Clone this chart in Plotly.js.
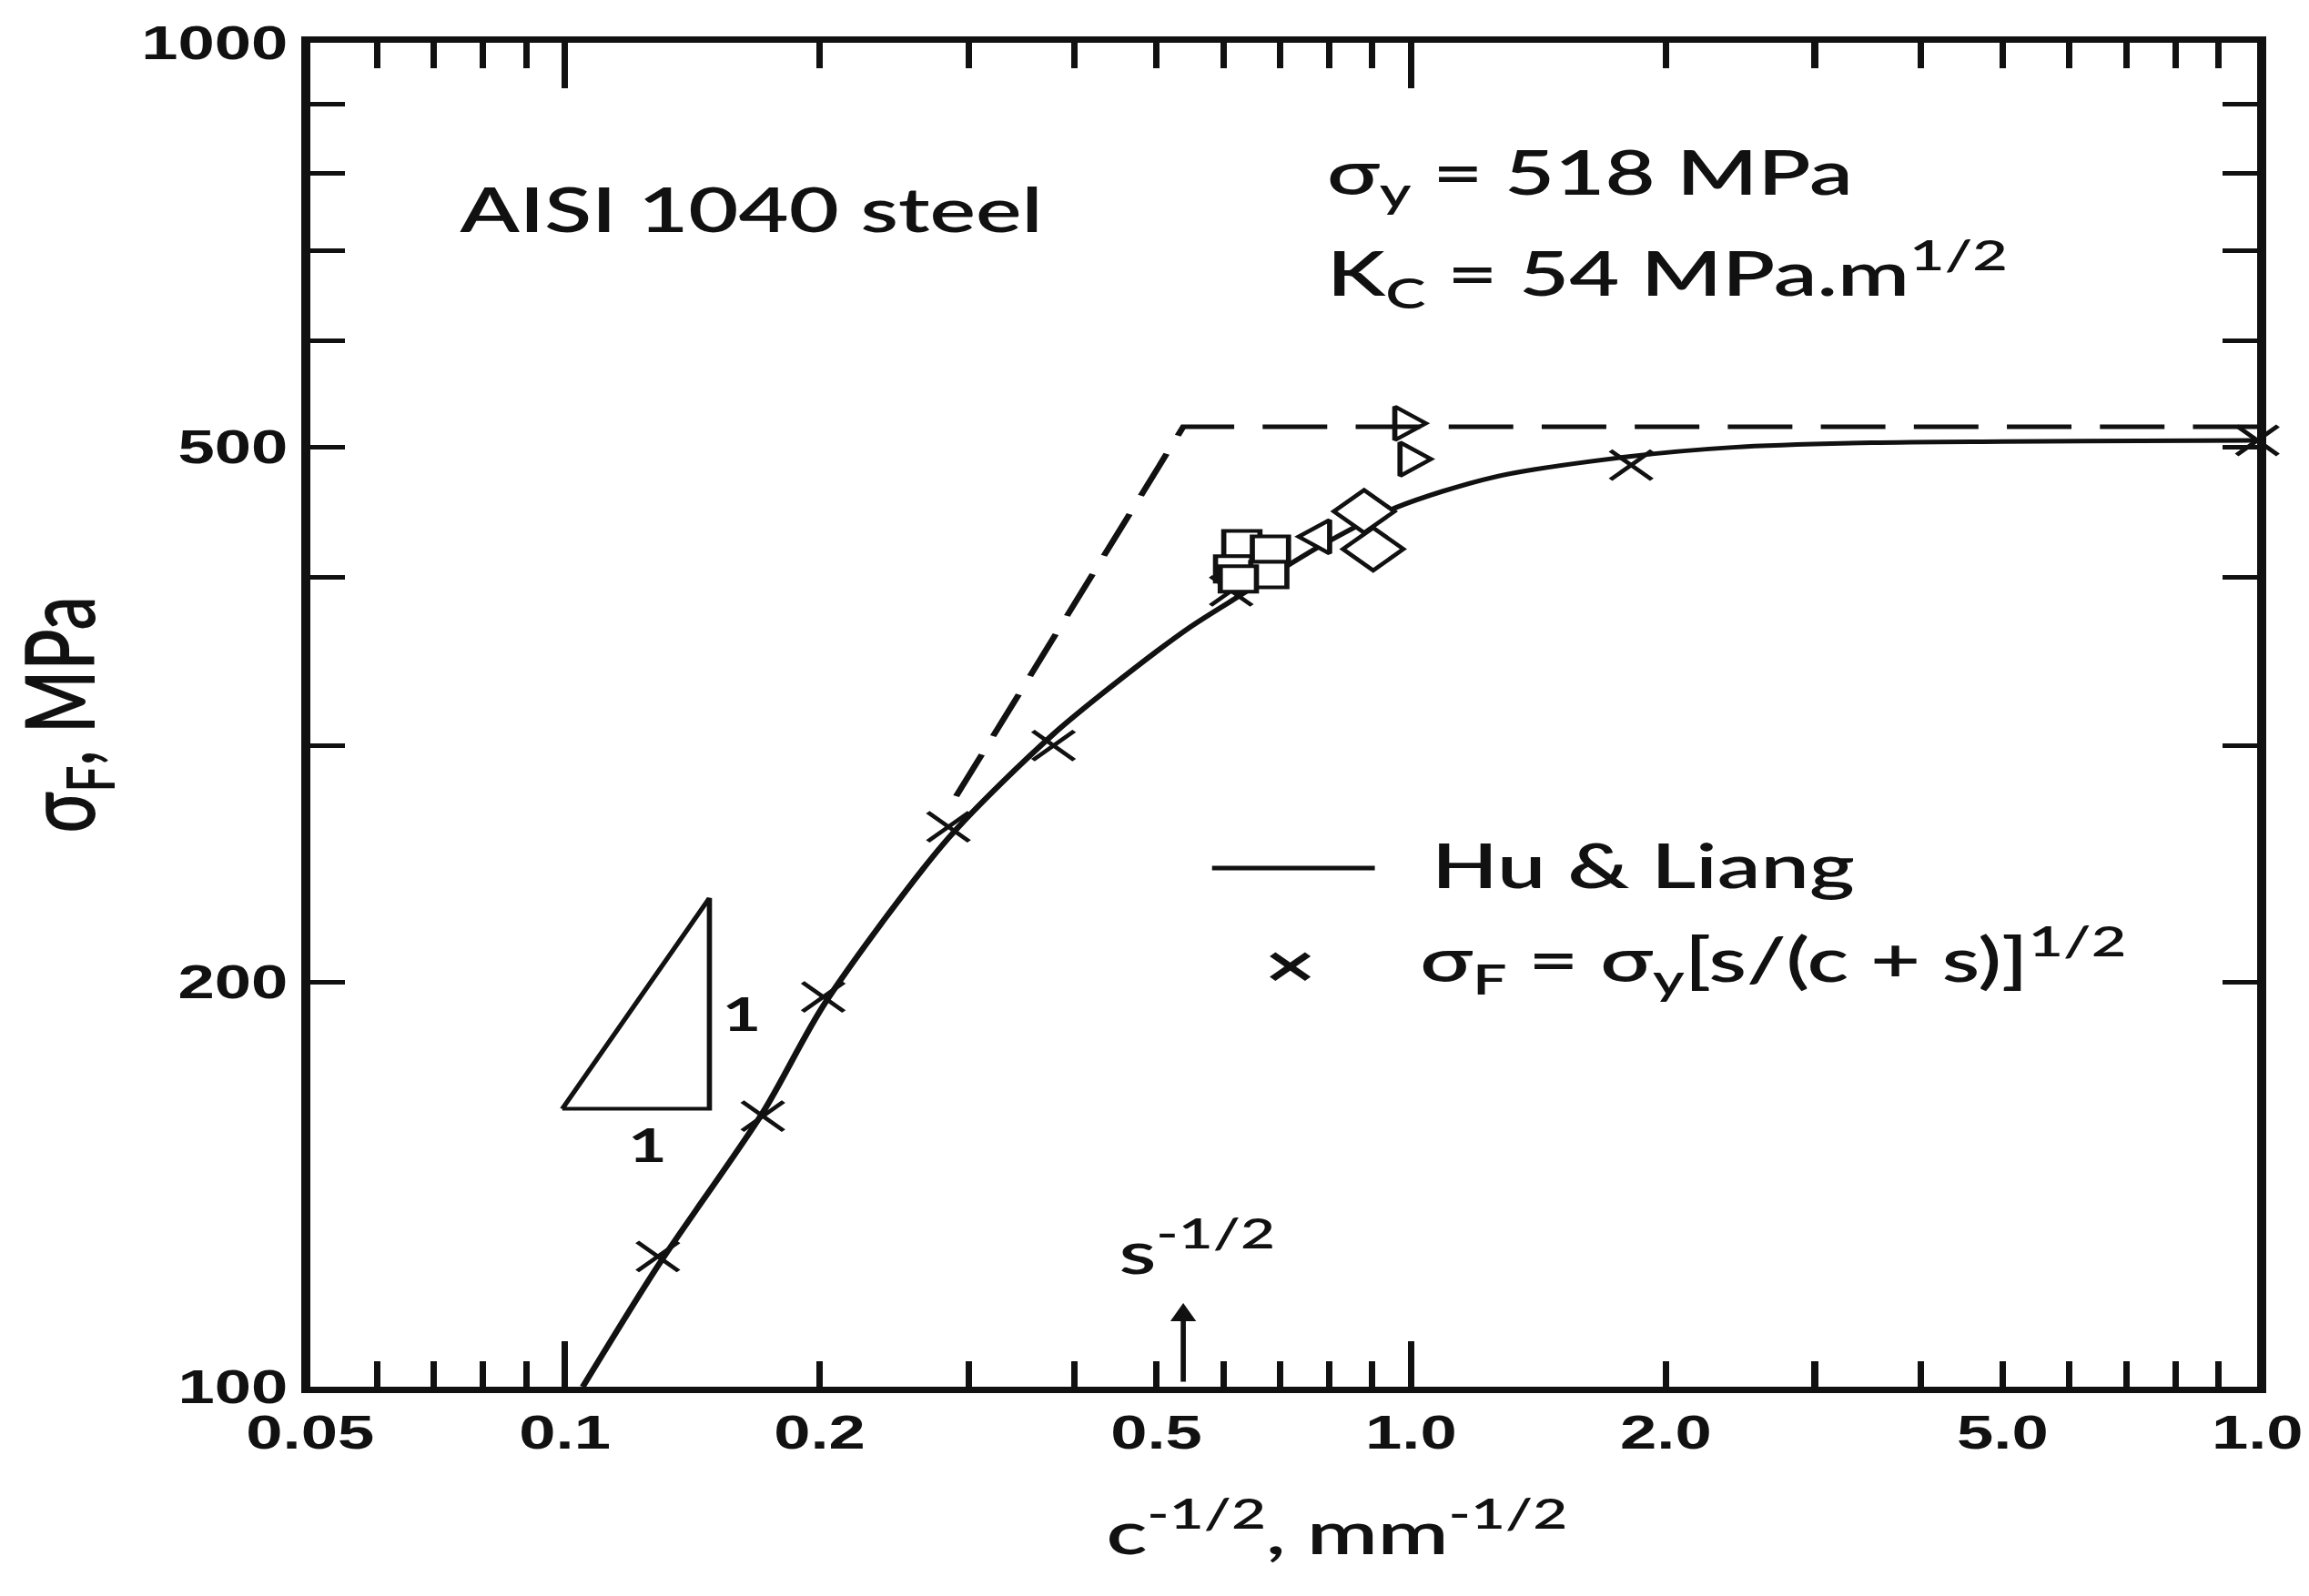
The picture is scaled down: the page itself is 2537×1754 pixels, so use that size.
<!DOCTYPE html>
<html>
<head>
<meta charset="utf-8">
<script src="https://cdn.plot.ly/plotly-3.0.1.min.js"></script>
<style>
  html, body { margin: 0; padding: 0; overflow: hidden; background: #fff; }
  /* the scanned figure is stretched sideways, so draw it narrow and widen it */
  #chart { width: 1787px; height: 1754px; transform: scaleX(1.4197); transform-origin: 0 0; }
</style>
</head>
<body>
<div id="chart"></div>
<script>
// Hu & Liang curve
const huLiangX = [0.105, 0.1288, 0.1714, 0.203, 0.284, 0.378, 0.47, 0.55, 0.62, 0.78, 0.96, 1.25, 1.8, 2.4, 3.5, 5.0, 10];
const huLiangY = [100, 123, 160, 193, 256, 306, 342, 368, 386, 422, 451, 475, 492, 500, 504, 505, 506];

// sigma_F = sigma_y [s/(c+s)]^1/2 points (x marks)
const formulaX = [0.1288, 0.1714, 0.202, 0.284, 0.378, 0.613, 1.82, 10];
const formulaY = [125, 159, 195, 261, 300, 391, 485, 506];

// dashed line: K_C slope then yield stress
const dashX = [0.29, 0.538, 10];
const dashY = [275, 518, 518];

// test data
const squareX = [0.631, 0.682, 0.617, 0.679, 0.625];
const squareY = [424, 420, 406, 402, 399];
const triRightX = [0.984, 0.998];
const triRightY = [521, 490];
const triLeftX = [0.779];
const triLeftY = [429];
const diamondX = [0.88, 0.902];
const diamondY = [448, 420];

// 1:1 slope triangle
const slopeTriX = [0.0993, 0.1482, 0.1482, 0.0993];
const slopeTriY = [161, 161, 231, 161];

const sInv = 0.538;   // s^-1/2 arrow

const xTickVals = [0.05, 0.1, 0.2, 0.5, 1, 2, 5, 10];
const xTickText = ['0.05', '0.1', '0.2', '0.5', '1.0', '2.0', '5.0', '1.0'];
const xMinorVals = [0.06, 0.07, 0.08, 0.09, 0.3, 0.4, 0.6, 0.7, 0.8, 0.9, 3, 4, 6, 7, 8, 9];
const xLongVals = [0.1, 1];
const yTickVals = [100, 200, 500, 1000];
const yTickText = ['100', '200', '500', '1000'];
const yMinorVals = [300, 400, 600, 700, 800, 900];

const ink = '#111';
const textFont = { family: 'Lato', size: 67, color: ink, weight: 600 };
const numFont = { family: 'Liberation Sans', size: 51, color: ink, weight: 'bold' };
const xRange = [Math.log10(0.05), 1];

const traces = [
    { x: huLiangX, y: huLiangY, type: 'scatter', mode: 'lines',
      line: { color: ink, width: 5, shape: 'spline', smoothing: 0.8 }, name: 'Hu & Liang' },
    { x: dashX, y: dashY, type: 'scatter', mode: 'lines', xaxis: 'x2',
      line: { color: ink, width: 5, dash: '50px,22px' }, name: 'limits' },
    { x: slopeTriX, y: slopeTriY, type: 'scatter', mode: 'lines',
      line: { color: ink, width: 4 }, name: 'slope' },
    { x: formulaX, y: formulaY, type: 'scatter', mode: 'markers', cliponaxis: false,
      marker: { symbol: 'x-thin', size: 32, line: { color: ink, width: 4 } }, name: 'formula' },
    { x: squareX, y: squareY, type: 'scatter', mode: 'markers',
      marker: { symbol: 'square', size: 28, color: '#fff', line: { color: ink, width: 4 } }, name: 'squares' },
    { x: triLeftX, y: triLeftY, type: 'scatter', mode: 'markers',
      marker: { symbol: 'triangle-left', size: 32, color: '#fff', line: { color: ink, width: 4 } }, name: 'tri left' },
    { x: diamondX, y: diamondY, type: 'scatter', mode: 'markers',
      marker: { symbol: 'diamond', size: 36, color: '#fff', line: { color: ink, width: 4 } }, name: 'diamonds' },
    { x: triRightX, y: triRightY, type: 'scatter', mode: 'markers',
      marker: { symbol: 'triangle-right', size: 32, color: '#fff', line: { color: ink, width: 4 } }, name: 'tri right' }
];

const layout = {
    width: 1787, height: 1754,
    margin: { l: 240, r: 40, t: 47, b: 230 },
    paper_bgcolor: '#fff', plot_bgcolor: '#fff',
    showlegend: false,
    font: numFont,
    xaxis: {
        type: 'log', range: xRange, tickmode: 'array', tickvals: xTickVals, ticktext: xTickText,
        ticks: 'inside', ticklen: 28, tickwidth: 5, tickcolor: ink,
        minor: { tickmode: 'array', tickvals: xMinorVals, ticks: 'inside', ticklen: 28, tickwidth: 5, tickcolor: ink },
        showline: true, linewidth: 7, linecolor: ink, mirror: 'ticks',
        showgrid: false, zeroline: false, tickfont: numFont,
        title: { text: '&nbsp;&nbsp;&nbsp;&nbsp;&nbsp;c<sup>-1/2</sup>, mm<sup>-1/2</sup>',
                 font: { family: 'Lato', size: 66, color: ink, weight: 600 }, standoff: 62 }
    },
    xaxis2: {
        type: 'log', range: xRange, overlaying: 'x', anchor: 'y', side: 'bottom',
        tickmode: 'array', tickvals: xLongVals, showticklabels: false,
        ticks: 'inside', ticklen: 50, tickwidth: 5, tickcolor: ink, mirror: 'ticks',
        showline: false, showgrid: false, zeroline: false
    },
    yaxis: {
        type: 'log', range: [2, 3], tickmode: 'array', tickvals: yTickVals, ticktext: yTickText,
        ticks: 'inside', ticklen: 27, tickwidth: 5, tickcolor: ink,
        minor: { tickmode: 'array', tickvals: yMinorVals, ticks: 'inside', ticklen: 27, tickwidth: 5, tickcolor: ink },
        showline: true, linewidth: 7, linecolor: ink, mirror: 'ticks',
        showgrid: false, zeroline: false, tickfont: numFont,
        title: { text: 'σ<sub>F</sub>, MPa', font: { family: 'Lato', size: 74, color: ink, weight: 600 }, standoff: 30 }
    },
    shapes: [
        { type: 'line', xref: 'paper', yref: 'paper', x0: 0.4632, x1: 0.5468, y0: 0.3859, y1: 0.3859,
          line: { color: ink, width: 5 } }
    ],
    annotations: [
        { text: 'AISI 1040 steel', xref: 'paper', yref: 'paper', x: 0.0753, y: 0.8767,
          xanchor: 'left', yanchor: 'middle', showarrow: false, font: textFont },
        { text: 'σ<sub>y</sub> = 518 MPa', xref: 'paper', yref: 'paper', x: 0.5212, y: 0.9012,
          xanchor: 'left', yanchor: 'middle', showarrow: false, font: textFont },
        { text: 'K<sub>C</sub> = 54 MPa.m<sup>1/2</sup>', xref: 'paper', yref: 'paper', x: 0.5212, y: 0.8287,
          xanchor: 'left', yanchor: 'middle', showarrow: false, font: textFont },
        { text: 'Hu & Liang', xref: 'paper', yref: 'paper', x: 0.5748, y: 0.3885,
          xanchor: 'left', yanchor: 'middle', showarrow: false, font: textFont },
        { text: '×', xref: 'paper', yref: 'paper', x: 0.5033, y: 0.3141,
          xanchor: 'center', yanchor: 'middle', showarrow: false,
          font: { family: 'DejaVu Sans', size: 54, color: ink, weight: 'bold' } },
        { text: 'σ<sub>F</sub> = σ<sub>y</sub>[s/(c + s)]<sup>1/2</sup>', xref: 'paper', yref: 'paper', x: 0.5687, y: 0.3185,
          xanchor: 'left', yanchor: 'middle', showarrow: false, font: textFont },
        { text: 's<sup>-1/2</sup>', xref: 'paper', yref: 'paper', x: 0.4141, y: 0.073,
          xanchor: 'left', yanchor: 'bottom', showarrow: false, font: { family: 'Lato', size: 66, color: ink, weight: 600 } },
        { text: '', xref: 'x', yref: 'paper', x: Math.log10(sInv), y: 0.0623,
          showarrow: true, ax: 0, ay: 88, arrowhead: 2, arrowsize: 1, arrowwidth: 4, arrowcolor: ink, standoff: 0 },
        { text: '1', xref: 'paper', yref: 'paper', x: 0.2216, y: 0.2783, xanchor: 'center', yanchor: 'middle',
          showarrow: false, font: { family: 'Lato', size: 52, color: ink, weight: 'bold' } },
        { text: '1', xref: 'paper', yref: 'paper', x: 0.1735, y: 0.1808, xanchor: 'center', yanchor: 'middle',
          showarrow: false, font: { family: 'Lato', size: 52, color: ink, weight: 'bold' } }
    ]
};

Plotly.newPlot('chart', traces, layout, { displayModeBar: false, staticPlot: true });
</script>
</body>
</html>
